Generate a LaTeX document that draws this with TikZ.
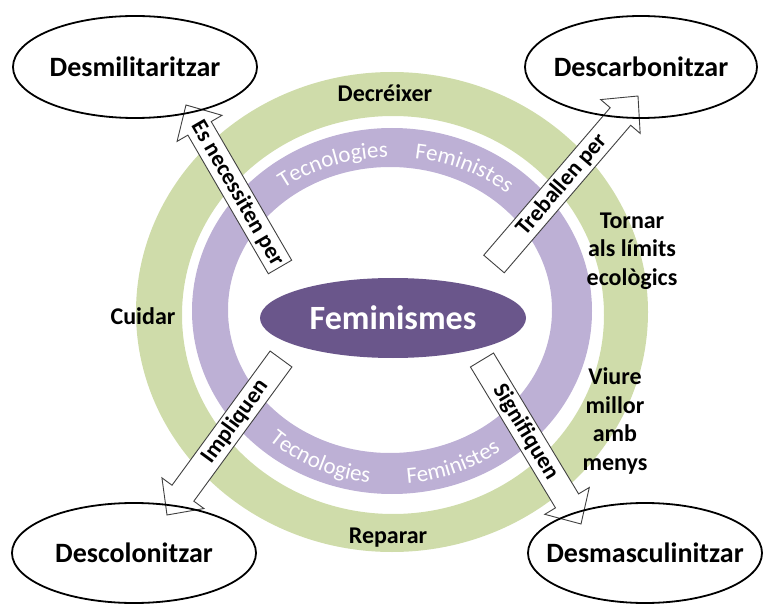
\documentclass[tikz,border=0pt]{standalone}
\usepackage{fontspec}
\setmainfont{Carlito}
\usetikzlibrary{shapes.geometric,calc,decorations.text}
\definecolor{ringgreen}{HTML}{CFDCAA}
\definecolor{ringpurple}{HTML}{BDB0D5}
\definecolor{fempurple}{HTML}{6A568B}
\definecolor{arrowgray}{HTML}{404040}
\newcommand\blkarrow[4]{%
  \coordinate (hb) at ($(#2)!27pt!(#1)$);
  \filldraw[blockarrow] ($(#1)!13.5pt!90:(#2)$) -- ($(hb)!13.5pt!90:(#2)$) -- ($(hb)!26pt!90:(#2)$) -- (#2) -- ($(hb)!26pt!-90:(#2)$) -- ($(hb)!13.5pt!-90:(#2)$) -- ($(#1)!13.5pt!-90:(#2)$) -- cycle;
  \path (#1) -- node[arrowtext, sloped, pos=#3] {#4} (#2);
}
\begin{document}
\begin{tikzpicture}[x=1pt,y=1pt,
  lbl/.style={font=\bfseries\fontsize{24}{28.7}\selectfont, align=center, inner sep=0pt},
  bigtext/.style={font=\bfseries\fontsize{28}{32}\selectfont, inner sep=0pt},
  arrowtext/.style={font=\bfseries\fontsize{23}{26}\selectfont, inner sep=0pt},
  blockarrow/.style={draw=arrowgray, fill=white, line width=0.9pt, line join=miter},
  cornerell/.style={draw=black, line width=1.8pt, ellipse, inner sep=0pt},
  curvtext/.style={decorate, decoration={text along path, text align=center, text color=white}}
]
\useasboundingbox (0,0) rectangle (766,-604);
\coordinate (c) at (392,-312);
% rings
\fill[ringgreen, even odd rule] (392,-312) ellipse (256 and 240) (393,-315) ellipse (211 and 199);
\fill[ringpurple, even odd rule] (392,-311) ellipse (200 and 183) (390,-310) ellipse (162 and 143);
% curved texts
\path[curvtext, decoration={text={|\fontsize{23}{26}\selectfont|Tecnologies}}]
  ($(c)+(133:178 and 155)$) arc[start angle=133, end angle=86, x radius=178, y radius=155];
\path[curvtext, decoration={text={|\fontsize{23}{26}\selectfont|Feministes}}]
  ($(c)+(89:178 and 155)$) arc[start angle=89, end angle=43, x radius=178, y radius=155];
\path[curvtext, decoration={text={|\fontsize{23}{26}\selectfont|Tecnologies}}]
  ($(c)+(222:185 and 172)$) arc[start angle=222, end angle=269, x radius=185, y radius=172];
\path[curvtext, decoration={text={|\fontsize{23}{26}\selectfont|Feministes}}]
  ($(c)+(267:185 and 172)$) arc[start angle=267, end angle=314, x radius=185, y radius=172];
% centre
\node[fill=fempurple, ellipse, minimum width=266pt, minimum height=80pt, inner sep=0pt, text=white,
  font=\bfseries\fontsize{34}{38}\selectfont] (fem) at (393,-318) {Feminismes};
% labels
\node[lbl] (dec) at (385,-93) {Decréixer};
\node[lbl] (rep) at (388,-538) {Reparar};
\node[lbl] (cui) at (143,-316) {Cuidar};
\node[lbl] (tor) at (632,-251) {Tornar\\als límits\\ecològics};
\node[lbl] (viu) at (615,-421) {Viure\\millor\\amb\\menys};
% arrows
\coordinate (t1) at (280,-267); \coordinate (a1) at (186,-105);
\coordinate (t2) at (494,-264); \coordinate (a2) at (638,-96);
\coordinate (t3) at (281,-359); \coordinate (a3) at (167,-515);
\coordinate (t4) at (482,-360); \coordinate (a4) at (581,-524);
\blkarrow{t1}{a1}{0.455}{Es necessiten per}
\blkarrow{t2}{a2}{0.47}{Treballen per}
\blkarrow{t3}{a3}{0.40}{Impliquen}
\blkarrow{t4}{a4}{0.44}{Signifiquen}
% corner ellipses
\node[cornerell, minimum width=244pt, minimum height=102pt] (e1) at (135,-67) {};
\node[bigtext] (e1t) at (e1) {Desmilitaritzar};
\node[cornerell, minimum width=232pt, minimum height=102pt] (e2) at (641,-67) {};
\node[bigtext] (e2t) at (e2) {Descarbonitzar};
\node[cornerell, minimum width=244pt, minimum height=100pt] (e3) at (134,-553) {};
\node[bigtext] (e3t) at (e3) {Descolonitzar};
\node[cornerell, minimum width=234pt, minimum height=100pt] (e4) at (645,-553) {};
\node[bigtext] (e4t) at (e4) {Desmasculinitzar};
\end{tikzpicture}
\end{document}
